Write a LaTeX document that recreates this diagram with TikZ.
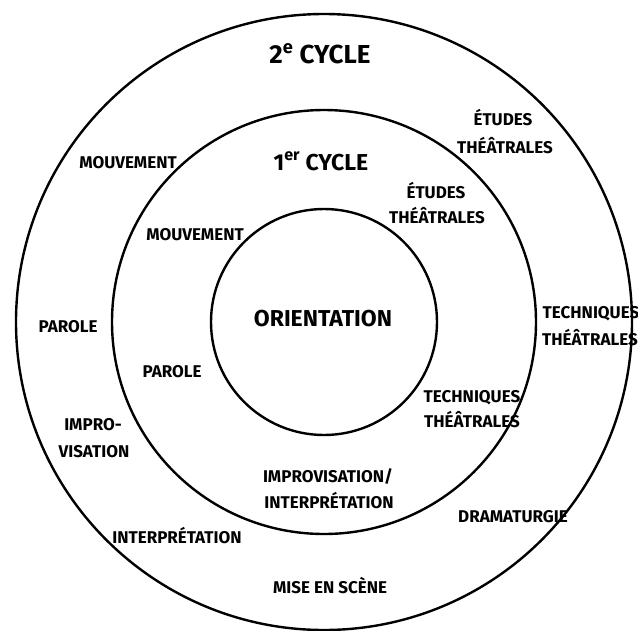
\documentclass[tikz,border=0pt]{standalone}
\usepackage{fontspec}
\setmainfont{Fira Sans}
\begin{document}
\begin{tikzpicture}[x=1pt,y=-1pt,
  ring/.style={draw=black,line width=2.4pt},
  lbl/.style={font=\bfseries\fontsize{17}{20}\selectfont,inner sep=0pt,anchor=base},
  head/.style={font=\bfseries\fontsize{26}{30}\selectfont,inner sep=0pt,anchor=base},
  headb/.style={font=\bfseries\fontsize{23}{27}\selectfont,inner sep=0pt,anchor=base},
  core/.style={font=\bfseries\fontsize{23}{27}\selectfont,inner sep=0pt,anchor=base}]
\useasboundingbox (0,0) rectangle (638,630);
\coordinate (c) at (324,322);
\draw[ring] (c) circle[radius=308pt];
\draw[ring] (c) circle[radius=212pt];
\draw[ring] (c) circle[radius=113pt];
% headings
\node[head] (h2) at (320,63) {2\textsuperscript{e} CYCLE};
\node[headb] (h1) at (321,170) {1\textsuperscript{er} CYCLE};
\node[core] (or) at (323,326) {ORIENTATION};
% outer ring
\node[lbl] (mo1) at (128,168) {MOUVEMENT};
\node[lbl] (et1a) at (503,125) {ÉTUDES};
\node[lbl] (et1b) at (505,153) {THÉÂTRALES};
\node[lbl] (te1a) at (591,318) {TECHNIQUES};
\node[lbl] (te1b) at (590,345) {THÉÂTRALES};
\node[lbl] (pa1) at (68,332) {PAROLE};
\node[lbl] (im1a) at (93,430) {IMPRO-};
\node[lbl] (im1b) at (94,457) {VISATION};
\node[lbl] (dr1) at (513,522) {DRAMATURGIE};
\node[lbl] (in1) at (177,543) {INTERPRÉTATION};
\node[lbl] (ms1) at (330,593) {MISE EN SCÈNE};
% middle ring
\node[lbl] (mo2) at (195,240) {MOUVEMENT};
\node[lbl] (et2a) at (436,198) {ÉTUDES};
\node[lbl] (et2b) at (437,223) {THÉÂTRALES};
\node[lbl] (pa2) at (172,377) {PAROLE};
\node[lbl] (te2a) at (472,402) {TECHNIQUES};
\node[lbl] (te2b) at (472,427) {THÉÂTRALES};
\node[lbl] (ii2a) at (328,482) {IMPROVISATION/};
\node[lbl] (ii2b) at (329,508) {INTERPRÉTATION};
\end{tikzpicture}
\end{document}
